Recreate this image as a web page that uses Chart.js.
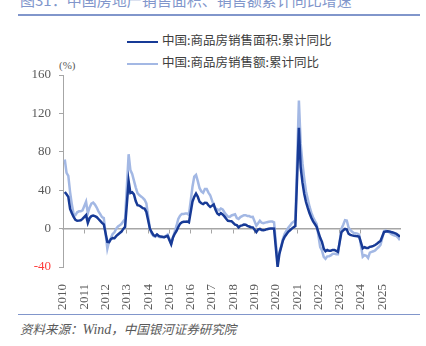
<!DOCTYPE html>
<html>
<head>
<meta charset="utf-8">
<script src="https://cdn.jsdelivr.net/npm/chart.js@4/dist/chart.umd.min.js"></script>
<style>
  body { margin: 0; width: 426px; height: 346px; overflow: hidden; background: #fff; position: relative; font-family: "Noto Sans CJK SC", sans-serif; }
  #wrap { position: absolute; left: 0; top: 0; width: 426px; height: 346px; }
  .title { position: absolute; left: 20px; top: -11px; font-size: 15px; color: #8196cb; white-space: nowrap; }
  .rule { position: absolute; left: 18px; width: 402px; background: #8196cb; }
  .legend { position: absolute; left: 127px; font-size: 12.5px; color: #404040; white-space: nowrap; }
  .legend span.sw { display: inline-block; width: 31px; height: 0; vertical-align: middle; margin-right: 4px; }
  .unit { position: absolute; left: 59px; top: 59px; font: 11px "Liberation Serif", serif; color: #595959; }
  .source { position: absolute; left: 20px; top: 319px; font-size: 12.5px; font-style: italic; color: #595959; white-space: nowrap; }
  .source i { font-family: "Liberation Serif", serif; font-size: 14px; }
</style>
</head>
<body>
<div class="title">图31：中国房地产销售面积、销售额累计同比增速</div>
<div class="rule" style="top:14px;height:2px;"></div>
<div class="legend" style="top:30px;"><span class="sw" style="border-top:2.5px solid #173a96;"></span>中国:商品房销售面积:累计同比</div>
<div class="legend" style="top:52px;"><span class="sw" style="border-top:2.5px solid #a3b8e4;"></span>中国:商品房销售额:累计同比</div>
<div class="unit">(%)</div>
<div class="rule" style="top:314px;height:1px;"></div>
<div class="source">资料来源：<i>Wind</i>，中国银河证券研究院</div>
<div id="wrap"><canvas id="chart" width="426" height="346"></canvas></div>
<script>
// monthly cumulative data, Jan-Feb combined, so each year starts in Feb
const years = [2010, 2011, 2012, 2013, 2014, 2015, 2016, 2017, 2018, 2019, 2020, 2021, 2022, 2023, 2024, 2025];
const months = [2, 3, 4, 5, 6, 7, 8, 9, 10, 11, 12];
const yTicks = [-40, 0, 40, 80, 120, 160];

// 商品房销售面积 累计同比 (%)
const areaYoY = [
  38.2, 35.8, 33.0, 20.4, 15.9, 12.1, 9.1, 8.1, 8.3, 8.7, 10.1,
  14.0, 6.0, 11.0, 13.0, 13.5, 13.0, 12.0, 10.0, 8.0, 6.0, 4.4,
  -13.9, -14.2, -10.9, -9.9, -10.0, -7.8, -6.2, -4.6, -3.1, -0.3, 1.8,
  49.5, 37.1, 37.8, 35.6, 28.7, 24.4, 24.0, 22.7, 21.3, 20.8, 17.3,
  -0.1, -3.8, -6.8, -7.8, -6.0, -7.6, -8.3, -8.6, -8.9, -8.2, -7.6,
  -16.3, -9.2, -5.4, -2.5, 1.7, 5.1, 6.6, 7.2, 7.2, 7.4, 6.5,
  28.2, 33.1, 36.5, 33.2, 27.9, 26.4, 25.5, 26.9, 26.8, 24.3, 22.5,
  25.1, 19.5, 15.7, 14.3, 16.1, 14.7, 12.7, 10.3, 8.2, 7.9, 7.7,
  4.1, 3.6, 1.3, 2.9, 3.3, 4.2, 4.0, 2.9, 2.2, 1.4, 1.3,
  -3.6, -0.9, -0.3, -1.6, -1.8, -1.3, -0.6, -0.1, 0.1, 0.2, -0.1,
  -39.9, -26.3, -19.3, -12.3, -8.4, -5.8, -3.3, -1.8, 0.0, 1.3, 2.6,
  104.9, 63.8, 48.1, 36.3, 27.7, 21.5, 15.9, 11.3, 7.5, 4.8, 1.9,
  -9.6, -13.8, -20.9, -23.6, -22.2, -23.1, -23.0, -22.2, -22.3, -23.3, -24.3,
  -3.6, -1.8, -0.4, -0.9, -5.3, -6.5, -7.1, -7.5, -7.8, -8.0, -8.5,
  -20.5, -19.4, -20.2, -20.3, -19.0, -18.6, -18.0, -17.1, -15.8, -14.3, -12.9,
  -3.5, -3.0, -2.8, -2.9, -3.5, -4.0, -4.7, -5.5, -6.8, -8.5
];

// 商品房销售额 累计同比 (%)
const valueYoY = [
  72.0, 58.0, 55.0, 38.0, 25.0, 15.0, 14.0, 17.0, 18.0, 18.0, 19.0,
  28.0, 16.0, 22.0, 26.0, 27.0, 25.0, 22.0, 18.0, 15.0, 12.0, 11.0,
  -20.9, -13.3, -9.8, -5.7, -3.8, 0.0, 2.2, 3.4, 5.0, 7.7, 10.0,
  77.5, 61.0, 57.0, 50.0, 43.0, 37.0, 35.0, 33.5, 32.0, 30.0, 26.3,
  -0.1, -5.2, -7.7, -8.5, -6.7, -8.6, -8.9, -8.9, -8.9, -7.8, -6.3,
  -15.8, -9.3, -3.1, 3.0, 10.0, 13.4, 15.3, 15.3, 15.6, 15.6, 14.4,
  43.6, 54.1, 55.9, 49.4, 42.1, 38.7, 37.3, 41.3, 41.2, 37.5, 34.8,
  24.0, 21.0, 20.0, 19.0, 21.0, 20.0, 17.0, 14.5, 12.6, 12.2, 13.7,
  15.0, 11.0, 10.0, 12.0, 13.0, 14.0, 14.0, 13.0, 13.0, 12.0, 12.2,
  3.0, 5.6, 8.1, 6.1, 5.6, 6.2, 6.7, 7.1, 7.3, 7.3, 6.5,
  -35.9, -24.7, -18.6, -10.6, -5.4, -2.1, 0.9, 3.1, 5.8, 7.2, 8.7,
  133.4, 88.5, 68.2, 52.4, 38.9, 30.7, 22.8, 16.6, 11.8, 8.0, 4.8,
  -19.3, -22.7, -29.5, -31.5, -28.9, -28.8, -27.9, -26.3, -26.1, -26.6, -26.7,
  -0.1, 4.1, 8.8, 8.4, 1.1, -1.5, -3.2, -4.6, -4.9, -5.2, -6.5,
  -29.3, -27.6, -28.3, -30.5, -25.0, -24.3, -23.6, -22.7, -20.9, -19.2, -17.1,
  -2.6, -2.1, -3.2, -3.8, -5.5, -6.5, -7.3, -7.9, -9.6, -12.0
];

// decimal-year x positions for every month that has data
const dates = [];
years.forEach(y => months.forEach(m => dates.push(y + (m - 1) / 12)));

const toPoints = arr => arr.map((v, i) => ({ x: dates[i], y: v }));

const xMin = years[0];
const xMax = dates[areaYoY.length - 1];
const serif = '"Liberation Serif", "Times New Roman", serif';

new Chart(document.getElementById('chart'), {
  type: 'line',
  data: {
    datasets: [{
      label: '中国:商品房销售面积:累计同比',
      data: toPoints(areaYoY),
      borderColor: '#173a96',
      borderWidth: 2.5,
      pointRadius: 0,
      tension: 0
    }, {
      label: '中国:商品房销售额:累计同比',
      data: toPoints(valueYoY),
      borderColor: '#a3b8e4',
      borderWidth: 2.5,
      pointRadius: 0,
      tension: 0
    }]
  },
  options: {
    responsive: false,
    animation: false,
    layout: { padding: { top: 75, right: 26, bottom: 0, left: 0 } },
    plugins: { legend: { display: false }, tooltip: { enabled: false } },
    scales: {
      x: {
        type: 'linear',
        position: 'bottom',
        min: xMin,
        max: xMax,
        afterBuildTicks: s => { s.ticks = s.ticks.filter(t => Number.isInteger(t.value)); },
        afterFit: s => { s.height = 79; },
        grid: { display: false },
        border: { display: false },
        ticks: {
          stepSize: 1,
          autoSkip: false,
          minRotation: 90,
          maxRotation: 90,
          padding: 9,
          color: '#595959',
          font: { family: serif, size: 13 },
          callback: v => String(v)
        }
      },
      x0: {
        type: 'linear',
        position: { y: 0 },
        min: xMin,
        max: xMax,
        afterBuildTicks: s => { s.ticks = s.ticks.filter(t => Number.isInteger(t.value) && t.value > xMin); },
        grid: { display: true, drawOnChartArea: false, drawTicks: true, tickLength: 4, color: '#a6a6a6' },
        border: { display: true, color: '#a6a6a6', width: 1.5 },
        ticks: { stepSize: 1, display: false }
      },
      y: {
        min: yTicks[0],
        max: yTicks[yTicks.length - 1],
        afterFit: s => { s.width = 63; },
        grid: { display: true, drawOnChartArea: false, drawTicks: true, tickLength: 4, color: '#a6a6a6' },
        border: { display: true, color: '#a6a6a6', width: 1 },
        ticks: {
          stepSize: 40,
          padding: 8,
          font: { family: serif, size: 13 },
          color: ctx => ctx.tick.value < 0 ? '#ff3b3b' : '#595959'
        }
      }
    }
  }
});
</script>
</body>
</html>
